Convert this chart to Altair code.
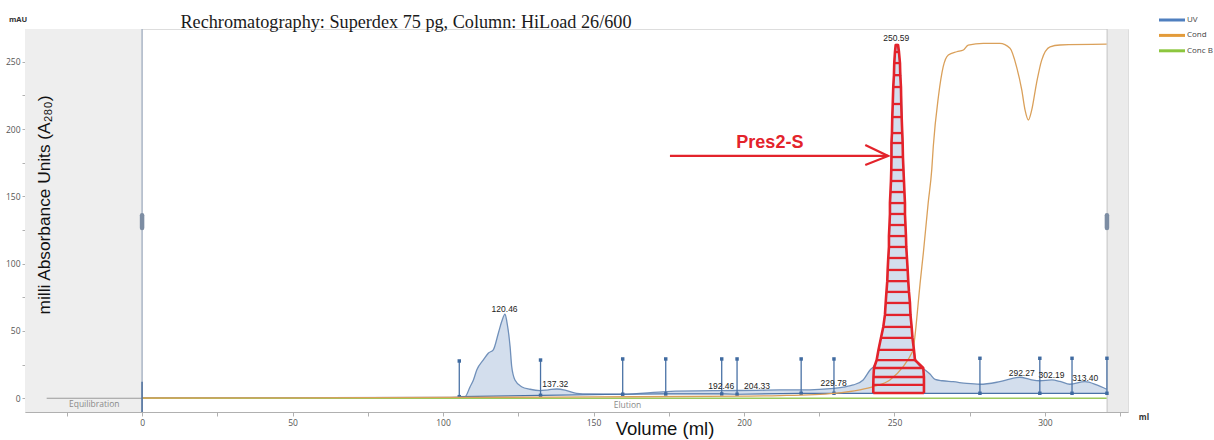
import altair as alt
import pandas as pd

# ---------------- data ----------------
uv_vol = [0, 50, 100, 105, 107.3, 109.0, 110.1, 111.2, 113.4, 115.1,
          116.7, 118.4, 119.5, 120.6, 121.2, 122.3, 122.8, 123.9, 126.1, 128.9,
          132.2, 135.0, 137.8, 141.1, 144.4, 148.8, 159.8, 174.3, 192.7, 204.3,
          212.0, 219.0, 225.0, 229.9, 233.0, 236.3, 239.6, 241.9, 243.2, 244.1,
          244.7, 245.5, 246.3, 246.8, 247.1, 247.6, 248.0, 248.3, 248.6, 248.9,
          249.1, 249.4, 249.7, 250.0, 250.3, 250.6, 251.0, 251.4, 251.8, 252.2,
          252.5, 252.8, 253.2, 253.5, 253.9, 254.4, 254.8, 255.2, 255.7, 256.4,
          256.9, 258.0, 259.6, 261.8, 263.5, 266.0, 269.5, 274.0, 278.4, 285.0,
          291.7, 295.0, 298.3, 302.3, 305.0, 308.3, 313.3, 317.2, 320.5]
uv_mau = [0.4, 0.5, 0.7, 0.9, 1.2, 8.6, 13.6, 21.0, 28.5, 33.6,
          36.0, 48.5, 57.0, 62.5, 57.0, 38.0, 24.0, 13.6, 8.6, 6.7,
          5.7, 6.3, 6.9, 5.7, 3.7, 3.2, 3.0, 5.0, 5.7, 5.9,
          6.2, 6.2, 6.6, 7.4, 8.2, 9.9, 13.6, 21.0, 24.0, 28.4,
          35.9, 44.8, 53.0, 61.9, 70.8, 87.0, 104.0, 120.0, 145.0, 165.0,
          190.0, 215.0, 235.0, 250.0, 258.0, 262.5, 261.0, 257.0, 249.0, 232.0,
          210.0, 185.0, 160.0, 140.0, 115.0, 95.0, 79.0, 68.0, 53.0, 38.0,
          30.0, 25.0, 22.0, 18.0, 14.0, 13.0, 12.3, 11.0, 10.4, 12.3,
          15.6, 14.0, 13.0, 13.6, 12.5, 10.4, 12.3, 9.9, 6.7]
uv_base = [0.4, 0.5, 0.7, 0.9, 1.2, 1.3, 1.3, 1.4, 1.5, 1.5,
           1.6, 1.6, 1.7, 1.7, 1.7, 1.8, 1.8, 1.8, 1.9, 2.0,
           2.2, 2.3, 2.4, 2.6, 2.7, 2.8, 3.0, 3.2, 3.2, 3.3,
           3.4, 3.5, 3.5, 3.6, 3.6, 3.6, 3.6, 3.6, 3.6, 3.6,
           3.6, 3.6, 3.6, 3.6, 3.6, 3.6, 3.6, 3.6, 3.6, 3.6,
           3.6, 3.6, 3.6, 3.6, 3.6, 3.6, 3.6, 3.6, 3.6, 3.6,
           3.6, 3.6, 3.6, 3.6, 3.6, 3.6, 3.6, 3.6, 3.6, 3.6,
           3.7, 3.7, 3.7, 3.7, 3.7, 3.7, 3.7, 3.7, 3.7, 3.7,
           3.7, 3.7, 3.7, 3.7, 3.7, 3.7, 3.7, 3.7, 3.7]

cond_vol = [0, 50, 100, 150, 200, 212, 230, 238.5, 243, 248.5,
            252.9, 255.7, 256.2, 257.0, 257.9, 258.5, 259.6, 261.2, 262.4, 262.9,
            264.6, 266.2, 267.9, 270.7, 272.9, 274.5, 279.5, 285, 288.4, 290.6,
            292.3, 293.4, 294.5, 295.6, 297.2, 298.9, 301.7, 305, 320.5]
cond_mau = [0.2, 0.3, 0.6, 1.0, 1.6, 2.0, 3.7, 6.2, 8.6, 13.6,
            23.5, 33.4, 36, 50, 71, 85, 108, 145, 170, 187,
            224, 246.3, 255, 257.4, 258.7, 262.4, 263.6, 263.6, 260, 246,
            229, 214, 206.7, 214, 234, 251, 261, 262.4, 263]

concb_vol = [0, 320.5]
concb_mau = [0, 0]

equil_vol = [-31.7, 0]
equil_mau = [0, 0]

frac_vol = [105.4, 132.4, 159.7, 174.0, 192.6, 197.7, 219.0, 229.9, 278.4, 298.3, 309.0, 320.6]
frac_top = [27.7, 28.4, 29.2, 29.2, 29.2, 29.2, 29.2, 29.2, 29.7, 29.7, 29.7, 29.7]
frac_base = [1.2, 2.2, 3.0, 3.2, 3.2, 3.0, 3.7, 3.7, 3.7, 3.7, 3.7, 3.7]

peak_vol = [120.46, 137.32, 192.46, 204.33, 229.78, 250.59, 292.27, 302.19, 313.40]
peak_text = ["120.46", "137.32", "192.46", "204.33", "229.78", "250.59", "292.27", "302.19", "313.40"]
peak_label_mau = [66.1, 10.4, 8.9, 9.4, 11.1, 267.4, 19.0, 17.3, 15.3]

hatch_mau = [3.9, 9.9, 15.8, 22.5, 28.4, 35.9, 44.8, 53.0, 61.9, 70.8,
             79.0, 87.0, 95.3, 104.2, 112.4, 120.5, 128.7, 136.9, 145.0, 153.2,
             161.4, 169.6, 179.2, 189.6, 197.0, 208.9, 218.6, 231.2, 240.0, 249.0,
             257.2, 262.4]
hatch_left = [242.96, 242.96, 243.02, 243.19, 244.09, 244.68, 245.51, 246.28, 246.84, 247.08,
              247.34, 247.61, 247.74, 247.94, 248.17, 248.17, 248.34, 248.50, 248.50, 248.67,
              248.84, 248.94, 249.00, 249.00, 249.17, 249.27, 249.43, 249.60, 249.83, 249.93,
              250.17, 250.40]
hatch_right = [259.80, 259.80, 259.80, 259.57, 256.81, 256.48, 255.98, 255.71, 255.32, 255.15,
               254.82, 254.58, 254.39, 254.15, 253.92, 253.82, 253.65, 253.49, 253.49, 253.32,
               253.16, 252.99, 252.82, 252.72, 252.59, 252.39, 252.26, 252.16, 251.93, 251.83,
               251.50, 251.20]

arrow_part = ["shaft", "shaft", "head", "head", "head"]
arrow_vol = [175.4, 247.9, 240.3, 247.9, 240.3]
arrow_mau = [180.0, 180.0, 188.2, 180.0, 173.2]
arrow_order = [0, 1, 0, 1, 2]
annot_text = ["Pres2-S"]
annot_vol = [208.6]
annot_mau = [189.8]

region_start = [-38.9, 320.6]
region_end = [0.0, 327.6]
region_shade = ["#eeeeee", "#ebebeb"]
handle_vol = [0.0, 320.6]
handle_lo = [126.5, 126.5]
handle_hi = [136.0, 136.0]

phase_text = ["Equilibration", "Elution"]
phase_vol = [-15.9, 161.3]
phase_mau = [-4.6, -5.0]

legend_names = ["UV", "Cond", "Conc B"]
legend_colors = ["#4f7fbf", "#e39b3a", "#8cc63e"]

# ---------------- layout ----------------
W, H = 1103, 383
xs = alt.Scale(domain=[-38.9, 327.6], nice=False, zero=False)
ys = alt.Scale(domain=[-10.2, 274.3], nice=False, zero=False)

x_axis = alt.Axis(values=list(range(-25, 326, 25)),
                  labelExpr="datum.value % 50 === 0 ? datum.label : ''",
                  tickSize=4, tickColor="#b0b0b0", domainColor="#b0b0b0",
                  labelColor="#555555", labelFont="Open Sans", labelFontSize=8.5,
                  labelPadding=2, grid=False, title=None)
y_axis = alt.Axis(values=list(range(0, 275, 25)),
                  labelExpr="datum.value % 50 === 0 ? datum.label : ''",
                  tickSize=3, tickColor="#b0b0b0", domain=False,
                  labelColor="#555555", labelFont="Open Sans", labelFontSize=8.5,
                  labelPadding=2, grid=False, title=None)


def X(f):
    return alt.X(f"{f}:Q", scale=xs, axis=x_axis)


def Y(f):
    return alt.Y(f"{f}:Q", scale=ys, axis=y_axis)


one = pd.DataFrame({"k": [0]})

uv_df = pd.DataFrame({"vol": uv_vol, "mau": uv_mau, "base": uv_base})
cond_df = pd.DataFrame({"vol": cond_vol, "mau": cond_mau})
concb_df = pd.DataFrame({"vol": concb_vol, "mau": concb_mau})
equil_df = pd.DataFrame({"vol": equil_vol, "mau": equil_mau})
frac_df = pd.DataFrame({"vol": frac_vol, "top": frac_top, "base": frac_base})
peak_df = pd.DataFrame({"vol": peak_vol, "txt": peak_text, "mau": peak_label_mau})
hatch_df = pd.DataFrame({"mau": hatch_mau, "left": hatch_left, "right": hatch_right})
outline_rows = []
for i, (l, m) in enumerate(zip(hatch_left, hatch_mau)):
    outline_rows.append({"vol": l, "mau": m, "o": i})
n = len(hatch_mau)
for j, (r, m) in enumerate(zip(reversed(hatch_right), reversed(hatch_mau))):
    outline_rows.append({"vol": r, "mau": m, "o": n + j})
outline_df = pd.DataFrame(outline_rows)
arrow_df = pd.DataFrame({"part": arrow_part, "vol": arrow_vol, "mau": arrow_mau, "o": arrow_order})
annot_df = pd.DataFrame({"txt": annot_text, "vol": annot_vol, "mau": annot_mau})
region_df = pd.DataFrame({"start": region_start, "end": region_end, "shade": region_shade})
handle_df = pd.DataFrame({"vol": handle_vol, "lo": handle_lo, "hi": handle_hi})
phase_df = pd.DataFrame({"txt": phase_text, "vol": phase_vol, "mau": phase_mau})

RED = "#e3232b"

regions = alt.Chart(region_df).mark_rect(clip=True).encode(
    x=X("start"), x2="end:Q", y=alt.value(0), y2=alt.value(H),
    color=alt.Color("shade:N", scale=None))

zero_line = alt.Chart(one).mark_rule(color="#aab5c6", strokeWidth=1.5).encode(
    x=alt.value(117.1), y=alt.value(0), y2=alt.value(H))
right_line = alt.Chart(one).mark_rule(color="#c4c4c4", strokeWidth=1).encode(
    x=alt.value(1082.1), y=alt.value(0), y2=alt.value(H))
inject = alt.Chart(pd.DataFrame({"vol": [0.0], "lo": [-10.2], "hi": [12.3]})).mark_rule(
    color="#4d6f9e", strokeWidth=1.5).encode(x=X("vol"), y=Y("lo"), y2="hi:Q")
handles = alt.Chart(handle_df).mark_rule(color="#7d8da3", strokeWidth=4.5, strokeCap="round").encode(
    x=X("vol"), y=Y("lo"), y2="hi:Q")

uv_area = alt.Chart(uv_df).mark_area(color="#d3deed", interpolate="monotone").encode(
    x=X("vol"), y=Y("mau"), y2="base:Q")
uv_line = alt.Chart(uv_df).mark_line(color="#7090ba", strokeWidth=1.3, interpolate="monotone").encode(
    x=X("vol"), y=Y("mau"))

base_line = alt.Chart(frac_df).mark_line(color="#4a72a6", strokeWidth=1.2).encode(
    x=X("vol"), y=Y("base"))
frac_rules = alt.Chart(frac_df).mark_rule(color="#4a72a6", strokeWidth=1.3).encode(
    x=X("vol"), y=Y("base"), y2="top:Q")
frac_tops = alt.Chart(frac_df).mark_square(color="#3f6aa0", size=12, opacity=1).encode(
    x=X("vol"), y=Y("top"))
frac_bots = alt.Chart(frac_df).mark_square(color="#3f6aa0", size=12, opacity=1).encode(
    x=X("vol"), y=Y("base"))

equil_line = alt.Chart(equil_df).mark_line(color="#9a9a9a", strokeWidth=1.2).encode(
    x=X("vol"), y=Y("mau"))
concb_line = alt.Chart(concb_df).mark_line(color="#9cc95c", strokeWidth=1.3).encode(
    x=X("vol"), y=Y("mau"))
cond_line = alt.Chart(cond_df).mark_line(color="#daa05a", strokeWidth=1.3, interpolate="monotone").encode(
    x=X("vol"), y=Y("mau"))

hatch = alt.Chart(hatch_df).mark_rule(color=RED, strokeWidth=2.3).encode(
    x=X("left"), x2="right:Q", y=Y("mau"))
outline = alt.Chart(outline_df).mark_line(color=RED, strokeWidth=2.6, strokeJoin="round").encode(
    x=X("vol"), y=Y("mau"), order="o:Q")
arrow = alt.Chart(arrow_df).mark_line(color=RED, strokeWidth=2.2).encode(
    x=X("vol"), y=Y("mau"), detail="part:N", order="o:Q")
annot = alt.Chart(annot_df).mark_text(color=RED, font="Liberation Sans", fontSize=18,
                                       fontWeight="bold", baseline="middle").encode(
    x=X("vol"), y=Y("mau"), text="txt:N")

peak_labels = alt.Chart(peak_df).mark_text(color="#222222", font="Liberation Sans", fontSize=8.5,
                                            baseline="middle").encode(
    x=X("vol"), y=Y("mau"), text="txt:N")
phase_labels = alt.Chart(phase_df).mark_text(color="#8a8a8a", font="Open Sans", fontSize=8.5,
                                              baseline="middle").encode(
    x=X("vol"), y=Y("mau"), text="txt:N")

title = alt.Chart(one).mark_text(text="Rechromatography: Superdex 75 pg, Column: HiLoad 26/600",
                                 font="Liberation Serif", fontSize=18.2, color="#1a1a1a",
                                 baseline="alphabetic", align="center").encode(
    x=alt.value(381), y=alt.value(-1.3))
ytitle = alt.Chart(one).mark_text(text="milli Absorbance Units (A\u2082\u2088\u2080)",
                                  font="Liberation Sans", fontSize=17.3,
                                  color="#111111", angle=270, baseline="middle", align="center").encode(
    x=alt.value(20), y=alt.value(176))
xtitle = alt.Chart(one).mark_text(text="Volume (ml)", font="Liberation Sans", fontSize=18.5,
                                  color="#111111", baseline="middle", align="center").encode(
    x=alt.value(640), y=alt.value(400))
mau_lbl = alt.Chart(one).mark_text(text="mAU", font="Open Sans", fontSize=7.5, fontWeight="bold",
                                   color="#333333", baseline="middle", align="center").encode(
    x=alt.value(-7), y=alt.value(-9))
ml_lbl = alt.Chart(one).mark_text(text="ml", font="Open Sans", fontSize=8, fontWeight="bold",
                                  color="#333333", baseline="middle", align="center").encode(
    x=alt.value(1119), y=alt.value(389))

legend_layers = []
for i, (name, col) in enumerate(zip(legend_names, legend_colors)):
    ypix = -9 + i * 15.4
    legend_layers.append(alt.Chart(one).mark_rule(color=col, strokeWidth=3).encode(
        x=alt.value(1134), x2=alt.value(1160), y=alt.value(ypix)))
    legend_layers.append(alt.Chart(one).mark_text(text=name, font="Open Sans", fontSize=8,
                                                  color="#444444", align="left", baseline="middle").encode(
        x=alt.value(1162), y=alt.value(ypix)))

chart = alt.layer(
    regions, zero_line, right_line, uv_area, uv_line, base_line, frac_rules, frac_tops, frac_bots,
    equil_line, concb_line, cond_line, inject, handles,
    hatch, outline, arrow, annot, peak_labels, phase_labels,
    title, ytitle, xtitle, mau_lbl, ml_lbl, *legend_layers
).properties(
    width=W, height=H,
    autosize=alt.AutoSizeParams(type="none"),
    padding={"left": 25, "top": 29, "right": 86, "bottom": 28},
).configure_view(stroke=None).configure(background="white")

chart.save("out.html", embed_options={"renderer": "svg", "actions": False})
